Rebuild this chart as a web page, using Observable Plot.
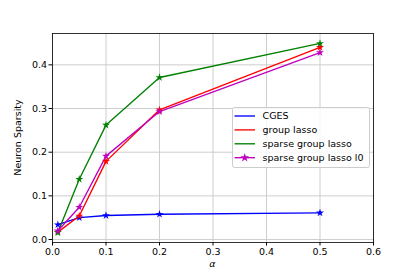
<!DOCTYPE html>
<html><head><meta charset="utf-8">
<script src="https://cdn.jsdelivr.net/npm/d3@7"></script>
<script src="https://cdn.jsdelivr.net/npm/@observablehq/plot@0.6"></script>
<style>body{margin:0;background:#fff;} #c{position:relative;width:415px;height:277px;}</style>
</head><body><div id="c"></div>
<script>
const alphas = [0.01, 0.05, 0.1, 0.2, 0.5];
const cges = [0.034, 0.050, 0.055, 0.058, 0.061];
const groupLasso = [0.017, 0.054, 0.179, 0.297, 0.440];
const sparseGroupLasso = [0.016, 0.138, 0.262, 0.371, 0.449];
const sparseGroupLassoL0 = [0.020, 0.074, 0.191, 0.293, 0.428];
const seriesNames = ["CGES", "group lasso", "sparse group lasso", "sparse group lasso l0"];
const seriesColors = ["#0000ff", "#ff0000", "#008000", "#bf00bf"];
const xTicks = [0, 0.1, 0.2, 0.3, 0.4, 0.5, 0.6];
const yTicks = [0, 0.1, 0.2, 0.3, 0.4];
const xLabel = "α";
const yLabel = "Neuron Sparsity";

const allSeries = [cges, groupLasso, sparseGroupLasso, sparseGroupLassoL0];
const data = allSeries.flatMap((vals, i) => vals.map((v, j) => ({x: alphas[j], y: v, s: seriesNames[i]})));

const font = "DejaVu Sans, sans-serif";
const fmt = d3.format(".1f");
const color = {domain: seriesNames, range: seriesColors};

const chart = Plot.plot({
  width: 415, height: 277,
  marginLeft: 52, marginRight: 42, marginTop: 33, marginBottom: 35,
  style: {fontFamily: font, fontSize: "9.5px", color: "#000", background: "#fff"},
  x: {domain: [0, 0.6]},
  y: {domain: [-0.0068, 0.4718]},
  color,
  marks: [
    Plot.gridX(xTicks, {stroke: "#c8c8c8", strokeOpacity: 1, strokeWidth: 0.9}),
    Plot.gridY(yTicks, {stroke: "#c8c8c8", strokeOpacity: 1, strokeWidth: 0.9}),
    Plot.axisX(xTicks, {tickSize: 3.5, tickPadding: 2, tickFormat: fmt, label: null, fontSize: 9.5, stroke: "#000"}),
    Plot.axisY(yTicks, {tickSize: 3.5, tickPadding: 2, tickFormat: fmt, label: null, fontSize: 9.5, stroke: "#000"}),
    ...seriesNames.map(n => Plot.line(data.filter(d => d.s === n), {x: "x", y: "y", stroke: "s", strokeWidth: 1.35})),
    ...seriesNames.map(n => Plot.dot(data.filter(d => d.s === n), {x: "x", y: "y", fill: "s", symbol: "star", r: 2.5, stroke: "none"})),
    Plot.frame({stroke: "#000", strokeWidth: 0.8})
  ]
});
document.getElementById("c").appendChild(chart);

const svg = d3.select(chart);
const xs = chart.scale("x"), ys = chart.scale("y");
const [x0, x1] = xs.range, [y0, y1] = ys.range;
svg.append("text").attr("x", (x0 + x1) / 2).attr("y", 267)
  .attr("text-anchor", "middle").attr("font-style", "italic").attr("font-size", 9.5).attr("font-family", font)
  .text(xLabel);
svg.append("text").attr("transform", `translate(21,${(y0 + y1) / 2}) rotate(-90)`)
  .attr("text-anchor", "middle").attr("font-size", 9.5).attr("font-family", font)
  .text(yLabel);

// legend
const lg = svg.append("g").attr("transform", "translate(232,107)");
lg.append("rect").attr("x", 0.5).attr("y", 0.5).attr("width", 137).attr("height", 60).attr("rx", 2)
  .attr("fill", "#fff").attr("fill-opacity", 0.8).attr("stroke", "#cccccc").attr("stroke-width", 1);
seriesNames.forEach((n, i) => {
  const yy = 9 + i * 13.9;
  lg.append("line").attr("x1", 2.5).attr("x2", 23).attr("y1", yy).attr("y2", yy)
    .attr("stroke", seriesColors[i]).attr("stroke-width", 1.35);
  if (i === 3) {
    lg.append("path").attr("d", d3.symbol(d3.symbolStar, 24)()).attr("transform", `translate(12.75,${yy})`).attr("fill", seriesColors[i]);
  }
  lg.append("text").attr("x", 30.5).attr("y", yy).attr("dy", "0.35em").attr("text-anchor", "start")
    .attr("font-size", 9.5).attr("font-family", font).text(n);
});
</script></body></html>
